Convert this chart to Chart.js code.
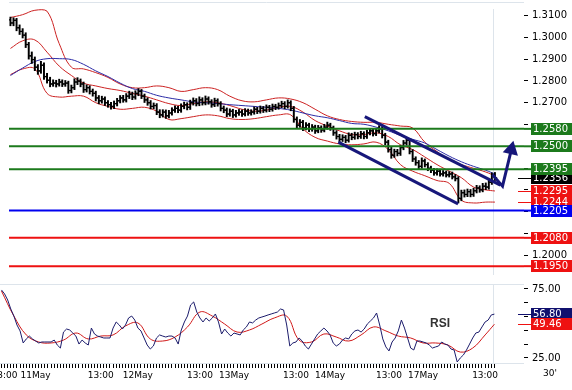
<!DOCTYPE html>
<html>
<head>
<meta charset="utf-8">
<script src="https://cdn.jsdelivr.net/npm/chart.js@4.4.1/dist/chart.umd.min.js"></script>
<style>
  html, body { margin: 0; padding: 0; background: #fff; }
  canvas { display: block; }
</style>
</head>
<body>
<canvas id="price-chart" width="572" height="284"></canvas>
<canvas id="rsi-chart" width="572" height="106"></canvas>
<script>
// 30' bars, one per index
const firstOpen = 1.3080;
const closes = [
  1.3066, 1.3078, 1.3044, 1.3027, 1.3010, 1.2967, 1.2915, 1.2898, 1.2863, 1.2846,
  1.2872, 1.2820, 1.2803, 1.2786, 1.2790, 1.2786, 1.2795, 1.2786, 1.2790, 1.2756,
  1.2769, 1.2795, 1.2799, 1.2786, 1.2760, 1.2769, 1.2752, 1.2743, 1.2722, 1.2709,
  1.2717, 1.2700, 1.2691, 1.2683, 1.2696, 1.2709, 1.2722, 1.2713, 1.2730, 1.2739,
  1.2726, 1.2743, 1.2752, 1.2730, 1.2713, 1.2700, 1.2683, 1.2687, 1.2657, 1.2644,
  1.2657, 1.2640, 1.2653, 1.2666, 1.2674, 1.2666, 1.2683, 1.2691, 1.2679, 1.2700,
  1.2709, 1.2696, 1.2713, 1.2700, 1.2717, 1.2704, 1.2691, 1.2709, 1.2696, 1.2674,
  1.2666, 1.2648, 1.2661, 1.2644, 1.2653, 1.2657, 1.2648, 1.2661, 1.2653, 1.2657,
  1.2670, 1.2661, 1.2674, 1.2666, 1.2679, 1.2670, 1.2683, 1.2679, 1.2687, 1.2696,
  1.2683, 1.2700, 1.2674, 1.2623, 1.2597, 1.2610, 1.2584, 1.2597, 1.2580, 1.2588,
  1.2571, 1.2584, 1.2575, 1.2588, 1.2597, 1.2584, 1.2562, 1.2545, 1.2532, 1.2541,
  1.2528, 1.2550, 1.2541, 1.2554, 1.2545, 1.2558, 1.2545, 1.2562, 1.2571, 1.2558,
  1.2571, 1.2580, 1.2550, 1.2519, 1.2485, 1.2459, 1.2476, 1.2468, 1.2494, 1.2515,
  1.2528, 1.2476, 1.2442, 1.2425, 1.2408, 1.2433, 1.2416, 1.2399, 1.2390, 1.2378,
  1.2386, 1.2373, 1.2378, 1.2369, 1.2373, 1.2360, 1.2352, 1.2261, 1.2287, 1.2279,
  1.2292, 1.2279, 1.2296, 1.2309, 1.2300, 1.2317, 1.2313, 1.2335, 1.2362, 1.2356
];
const highs = [
  1.3093, 1.3090, 1.3087, 1.3057, 1.3040, 1.3021, 1.2977, 1.2933, 1.2910, 1.2875,
  1.2890, 1.2883, 1.2835, 1.2817, 1.2805, 1.2803, 1.2808, 1.2805, 1.2802, 1.2799,
  1.2781, 1.2810, 1.2815, 1.2809, 1.2795, 1.2782, 1.2778, 1.2763, 1.2753, 1.2733,
  1.2730, 1.2727, 1.2710, 1.2702, 1.2708, 1.2720, 1.2733, 1.2734, 1.2742, 1.2753,
  1.2749, 1.2755, 1.2765, 1.2761, 1.2740, 1.2723, 1.2710, 1.2699, 1.2696, 1.2668,
  1.2668, 1.2667, 1.2665, 1.2677, 1.2686, 1.2684, 1.2695, 1.2703, 1.2700, 1.2712,
  1.2722, 1.2719, 1.2727, 1.2723, 1.2731, 1.2727, 1.2714, 1.2721, 1.2718, 1.2705,
  1.2685, 1.2676, 1.2672, 1.2670, 1.2665, 1.2669, 1.2667, 1.2673, 1.2671, 1.2668,
  1.2681, 1.2679, 1.2685, 1.2683, 1.2690, 1.2688, 1.2694, 1.2693, 1.2699, 1.2707,
  1.2705, 1.2713, 1.2709, 1.2683, 1.2635, 1.2623, 1.2619, 1.2609, 1.2606, 1.2600,
  1.2597, 1.2596, 1.2594, 1.2601, 1.2611, 1.2606, 1.2593, 1.2572, 1.2555, 1.2553,
  1.2550, 1.2562, 1.2560, 1.2565, 1.2563, 1.2569, 1.2567, 1.2574, 1.2583, 1.2580,
  1.2582, 1.2595, 1.2590, 1.2560, 1.2528, 1.2495, 1.2487, 1.2486, 1.2505, 1.2527,
  1.2541, 1.2536, 1.2485, 1.2452, 1.2435, 1.2447, 1.2442, 1.2425, 1.2409, 1.2399,
  1.2397, 1.2395, 1.2389, 1.2387, 1.2384, 1.2382, 1.2371, 1.2361, 1.2299, 1.2300,
  1.2304, 1.2302, 1.2308, 1.2321, 1.2319, 1.2330, 1.2332, 1.2347, 1.2378, 1.2380
];
const lows = [
  1.3053, 1.3053, 1.3030, 1.3013, 1.2997, 1.2953, 1.2900, 1.2880, 1.2847, 1.2830,
  1.2835, 1.2807, 1.2790, 1.2773, 1.2775, 1.2772, 1.2776, 1.2774, 1.2775, 1.2743,
  1.2745, 1.2760, 1.2783, 1.2773, 1.2747, 1.2749, 1.2740, 1.2730, 1.2708, 1.2695,
  1.2698, 1.2687, 1.2679, 1.2670, 1.2673, 1.2685, 1.2699, 1.2702, 1.2703, 1.2719,
  1.2714, 1.2716, 1.2732, 1.2719, 1.2701, 1.2688, 1.2671, 1.2672, 1.2645, 1.2631,
  1.2634, 1.2628, 1.2630, 1.2643, 1.2655, 1.2654, 1.2656, 1.2672, 1.2667, 1.2669,
  1.2689, 1.2685, 1.2686, 1.2689, 1.2690, 1.2693, 1.2679, 1.2682, 1.2684, 1.2662,
  1.2654, 1.2636, 1.2638, 1.2632, 1.2634, 1.2642, 1.2637, 1.2639, 1.2642, 1.2643,
  1.2647, 1.2650, 1.2652, 1.2655, 1.2657, 1.2659, 1.2661, 1.2668, 1.2670, 1.2677,
  1.2672, 1.2675, 1.2663, 1.2610, 1.2585, 1.2587, 1.2572, 1.2575, 1.2567, 1.2569,
  1.2559, 1.2562, 1.2564, 1.2566, 1.2578, 1.2573, 1.2550, 1.2533, 1.2520, 1.2522,
  1.2516, 1.2519, 1.2530, 1.2532, 1.2534, 1.2536, 1.2534, 1.2536, 1.2552, 1.2547,
  1.2549, 1.2561, 1.2538, 1.2507, 1.2473, 1.2445, 1.2449, 1.2456, 1.2458, 1.2484,
  1.2505, 1.2465, 1.2430, 1.2413, 1.2396, 1.2399, 1.2405, 1.2388, 1.2379, 1.2367,
  1.2368, 1.2363, 1.2363, 1.2359, 1.2359, 1.2350, 1.2341, 1.2240, 1.2250, 1.2267,
  1.2269, 1.2268, 1.2270, 1.2286, 1.2289, 1.2291, 1.2301, 1.2303, 1.2325, 1.2343
];

// bollinger bands and moving average, read every 4 bars
const bandIdx = [0, 4, 8, 12, 16, 20, 24, 28, 32, 36, 40, 44, 48, 52, 56, 60, 64, 68, 72, 76,
  80, 84, 88, 92, 96, 100, 104, 108, 112, 116, 120, 124, 128, 132, 136, 140, 144, 148, 152, 156, 159];
const bbUpper = [1.3091, 1.3104, 1.3124, 1.3120, 1.2971, 1.2863, 1.2855, 1.2838, 1.2816, 1.2786,
  1.2769, 1.2769, 1.2777, 1.2769, 1.2752, 1.2760, 1.2769, 1.2760, 1.2730, 1.2709,
  1.2704, 1.2713, 1.2722, 1.2717, 1.2700, 1.2670, 1.2640, 1.2623, 1.2614, 1.2610,
  1.2610, 1.2601, 1.2593, 1.2584, 1.2519, 1.2476, 1.2438, 1.2416, 1.2399, 1.2382, 1.2365];
const bbMiddle = [1.2949, 1.2984, 1.2988, 1.2932, 1.2868, 1.2825, 1.2790, 1.2777, 1.2765, 1.2756,
  1.2743, 1.2730, 1.2713, 1.2696, 1.2687, 1.2696, 1.2704, 1.2700, 1.2687, 1.2670,
  1.2661, 1.2666, 1.2679, 1.2683, 1.2657, 1.2618, 1.2593, 1.2571, 1.2554, 1.2554,
  1.2562, 1.2545, 1.2507, 1.2485, 1.2451, 1.2416, 1.2386, 1.2356, 1.2313, 1.2300, 1.2295];
const bbLower = [1.2829, 1.2855, 1.2855, 1.2743, 1.2726, 1.2730, 1.2730, 1.2700, 1.2683, 1.2670,
  1.2674, 1.2679, 1.2661, 1.2623, 1.2627, 1.2636, 1.2644, 1.2640, 1.2627, 1.2623,
  1.2627, 1.2636, 1.2644, 1.2644, 1.2580, 1.2541, 1.2524, 1.2511, 1.2507, 1.2511,
  1.2519, 1.2485, 1.2416, 1.2386, 1.2365, 1.2343, 1.2330, 1.2253, 1.2240, 1.2244, 1.2244];
const movAvg = [1.2825, 1.2859, 1.2889, 1.2902, 1.2902, 1.2898, 1.2876, 1.2846, 1.2820, 1.2790,
  1.2765, 1.2752, 1.2734, 1.2722, 1.2713, 1.2704, 1.2700, 1.2696, 1.2691, 1.2687,
  1.2683, 1.2679, 1.2674, 1.2666, 1.2653, 1.2640, 1.2631, 1.2618, 1.2605, 1.2601,
  1.2588, 1.2571, 1.2550, 1.2532, 1.2515, 1.2485, 1.2455, 1.2429, 1.2408, 1.2390, 1.2373];

// support / resistance levels
const levels = [1.2580, 1.2500, 1.2395, 1.2205, 1.2080, 1.1950];
const levelColors = ['#1c7a1c', '#1c7a1c', '#1c7a1c', '#0000f0', '#ee1111', '#ee1111'];

// trend channel and arrow (bar index, price)
const chanUpX = [116.3, 160.8], chanUpY = [1.2636, 1.2322];
const chanLoX = [107.6, 146.9], chanLoY = [1.2519, 1.2236];
const arrowX = [158.2, 161.5, 164.4], arrowY = [1.2369, 1.2317, 1.2485];

// RSI per bar and its signal line every 4 bars
const rsi = [
  74.3, 71.4, 67.0, 60.5, 55.4, 48.9, 44.6, 35.9, 38.8, 40.9,
  38.8, 37.3, 35.9, 36.6, 36.6, 36.6, 36.6, 38.0, 34.4, 32.2,
  43.8, 46.0, 45.3, 43.1, 40.9, 35.1, 38.0, 35.9, 34.4, 46.7,
  42.4, 40.9, 40.2, 39.5, 39.5, 39.5, 46.7, 51.1, 48.9, 46.0,
  48.9, 54.0, 55.4, 52.5, 46.7, 44.6, 39.5, 34.4, 31.5, 33.7,
  39.5, 41.7, 40.9, 40.2, 40.9, 40.9, 39.5, 35.1, 45.3, 51.1,
  55.4, 63.4, 65.6, 58.3, 54.0, 51.1, 54.0, 51.8, 54.0, 56.9,
  51.1, 42.4, 46.0, 43.1, 40.9, 43.1, 42.4, 41.7, 45.3, 47.5,
  51.1, 50.4, 52.5, 54.0, 54.7, 55.4, 56.2, 56.9, 57.6, 58.3,
  60.5, 59.8, 48.9, 33.7, 35.9, 36.6, 39.5, 37.3, 33.7, 31.5,
  35.1, 38.8, 42.4, 44.6, 46.7, 44.6, 41.7, 35.9, 33.7, 35.1,
  38.0, 39.5, 38.8, 42.4, 44.6, 45.3, 43.8, 46.0, 49.6, 51.8,
  54.0, 57.6, 48.9, 38.8, 33.0, 30.1, 36.6, 39.5, 44.6, 52.5,
  46.7, 39.5, 32.2, 30.8, 37.3, 37.3, 36.6, 35.9, 34.4, 32.2,
  33.0, 33.7, 36.6, 35.1, 34.4, 31.5, 30.8, 22.1, 25.0, 27.2,
  30.8, 35.1, 39.5, 43.1, 43.8, 47.5, 51.1, 52.5, 56.2, 56.80
];
const rsiSignal = [73.5, 55.4, 41.7, 36.6, 35.9, 38.0, 43.1, 38.8, 40.9, 41.7,
  48.2, 50.4, 38.8, 37.3, 40.2, 47.5, 58.3, 55.4, 49.6, 43.8,
  45.3, 49.6, 54.0, 55.4, 38.0, 36.6, 42.4, 40.2, 37.3, 41.7,
  47.5, 44.6, 40.9, 39.5, 35.9, 35.9, 34.4, 29.3, 32.2, 41.7, 49.46];

// axis ticks
const priceTicks = [1.310, 1.305, 1.300, 1.295, 1.290, 1.285, 1.280, 1.275, 1.270, 1.265, 1.260,
  1.255, 1.250, 1.245, 1.240, 1.235, 1.230, 1.225, 1.220, 1.215, 1.210, 1.205, 1.200, 1.195];
const priceLabels = ['1.3100', '1.3000', '1.2900', '1.2800', '1.2700', '1.2000'];
const rsiTicks = [75, 70, 65, 60, 55, 50, 45, 40, 35, 30, 25];
const rsiLabels = ['75.00', '25.00'];
const timeIdx = [1, 11, 32, 44, 64, 75, 95, 106, 125, 136, 156];
const timeText = ['13:00', '11May', '13:00', '12May', '13:00', '13May', '13:00', '14May', '13:00', '17May', '13:00'];

const X_MIN = -0.48, X_MAX = 168.55;
const NOW_X = 158.5;
const FONT = 'DejaVu Sans';
const NAVY = '#17177a';
const BB_RED = '#cc2222';
const FRAME = '#dde4eb';

function pts(xs, ys) { return ys.map((v, k) => ({ x: xs[k], y: v })); }
function fixY(scale) { scale.width = 48; scale.paddingTop = 0; scale.paddingBottom = 0; }

function box(ctx, y, color, text, marker) {
  if (marker) {
    ctx.strokeStyle = color; ctx.lineWidth = 1;
    ctx.beginPath(); ctx.moveTo(518, Math.round(y) + 0.5); ctx.lineTo(531, Math.round(y) + 0.5); ctx.stroke();
  }
  ctx.fillStyle = color;
  ctx.fillRect(531, Math.round(y) - 6, 41, 12);
  ctx.fillStyle = '#fff';
  ctx.font = '10px ' + FONT;
  ctx.textAlign = 'left';
  ctx.textBaseline = 'middle';
  ctx.fillText(text, 533, Math.round(y) + 0.5);
}

const priceOverlay = {
  id: 'priceOverlay',
  beforeDatasetsDraw(chart) {
    const { ctx, chartArea: a, scales } = chart;
    const nx = Math.round(scales.x.getPixelForValue(NOW_X)) + 0.5;
    ctx.save();
    ctx.strokeStyle = FRAME; ctx.lineWidth = 1;
    ctx.beginPath();
    ctx.moveTo(a.left, 2.5); ctx.lineTo(a.right, 2.5);
    ctx.moveTo(nx, a.top); ctx.lineTo(nx, a.bottom);
    ctx.stroke();
    ctx.restore();
  },
  afterDraw(chart) {
    const { ctx, chartArea: a, scales } = chart;
    const y = scales.y;
    ctx.save();
    const last = closes.length - 1;
    box(ctx, y.getPixelForValue(bbLower[bbLower.length - 1]), '#ee1111', bbLower[bbLower.length - 1].toFixed(4), true);
    box(ctx, y.getPixelForValue(bbMiddle[bbMiddle.length - 1]), '#ee1111', bbMiddle[bbMiddle.length - 1].toFixed(4), true);
    box(ctx, y.getPixelForValue(closes[last]), '#000', closes[last].toFixed(4), true);
    levels.forEach((lv, k) => {
      const py = y.getPixelForValue(lv);
      ctx.strokeStyle = levelColors[k]; ctx.lineWidth = 2;
      ctx.beginPath(); ctx.moveTo(a.right, py); ctx.lineTo(531, py); ctx.stroke();
      box(ctx, py, levelColors[k], lv.toFixed(4), false);
    });
    ctx.restore();
  }
};

const priceDatasets = [
  { type: 'line', data: pts(arrowX, arrowY), borderColor: NAVY, backgroundColor: NAVY, borderWidth: 3,
    pointRadius: [0, 0, 6], pointStyle: 'triangle', pointRotation: 13, order: 0 },
  { type: 'line', data: pts(chanUpX, chanUpY), borderColor: NAVY, borderWidth: 3, pointRadius: 0, order: 0 },
  { type: 'line', data: pts(chanLoX, chanLoY), borderColor: NAVY, borderWidth: 3, pointRadius: 0, order: 0 }
];
levels.forEach((lv, k) => {
  priceDatasets.push({ type: 'line', data: [{ x: X_MIN, y: lv }, { x: X_MAX, y: lv }],
    borderColor: levelColors[k], borderWidth: 2, pointRadius: 0, order: 1 });
});
priceDatasets.push(
  { type: 'line', data: closes.map((c, i) => ({ x: i - 0.35, y: i === 0 ? firstOpen : closes[i - 1] })),
    showLine: false, pointStyle: 'line', pointRadius: 1.2, pointBorderWidth: 1.2, pointBorderColor: '#000', order: 2 },
  { type: 'line', data: closes.map((c, i) => ({ x: i + 0.35, y: c })),
    showLine: false, pointStyle: 'line', pointRadius: 1.2, pointBorderWidth: 1.2, pointBorderColor: '#000', order: 2 },
  { type: 'bar', data: closes.map((c, i) => ({ x: i, y: [lows[i], highs[i]] })),
    backgroundColor: '#000', barThickness: 1.3, borderWidth: 0, grouped: false, order: 2 },
  { type: 'line', data: pts(bandIdx, movAvg), borderColor: '#2b2ba6', borderWidth: 1, pointRadius: 0, tension: 0.4, order: 3 },
  { type: 'line', data: pts(bandIdx, bbUpper), borderColor: BB_RED, borderWidth: 1, pointRadius: 0, tension: 0.4, order: 3 },
  { type: 'line', data: pts(bandIdx, bbMiddle), borderColor: BB_RED, borderWidth: 1, pointRadius: 0, tension: 0.4, order: 3 },
  { type: 'line', data: pts(bandIdx, bbLower), borderColor: BB_RED, borderWidth: 1, pointRadius: 0, tension: 0.4, order: 3 }
);

new Chart(document.getElementById('price-chart'), {
  type: 'bar',
  data: { datasets: priceDatasets },
  options: {
    responsive: false,
    animation: false,
    layout: { padding: 0 },
    plugins: { legend: { display: false }, tooltip: { enabled: false } },
    scales: {
      x: { type: 'linear', min: X_MIN, max: X_MAX, display: false, offset: false },
      y: {
        position: 'right', min: 1.19095, max: 1.3130,
        afterBuildTicks: s => { s.ticks = priceTicks.map(v => ({ value: v })); },
        afterFit: fixY,
        border: { display: false },
        grid: { drawOnChartArea: false, tickLength: 4, color: '#000' },
        ticks: {
          padding: 4, color: '#000', font: { family: FONT, size: 10 },
          callback: v => priceLabels.includes(v.toFixed(4)) ? v.toFixed(4) : ''
        }
      }
    }
  },
  plugins: [priceOverlay]
});

const rsiOverlay = {
  id: 'rsiOverlay',
  beforeDatasetsDraw(chart) {
    const { ctx, chartArea: a, scales } = chart;
    const nx = Math.round(scales.x.getPixelForValue(NOW_X)) + 0.5;
    ctx.save();
    ctx.strokeStyle = FRAME; ctx.lineWidth = 1;
    ctx.beginPath();
    ctx.moveTo(0, 0.5); ctx.lineTo(a.right, 0.5);
    ctx.moveTo(0, a.bottom - 0.5); ctx.lineTo(a.right, a.bottom - 0.5);
    ctx.moveTo(nx, a.top); ctx.lineTo(nx, a.bottom);
    ctx.stroke();
    ctx.restore();
  },
  afterDraw(chart) {
    const { ctx, scales } = chart;
    ctx.save();
    const r = rsi[rsi.length - 1], s = rsiSignal[rsiSignal.length - 1];
    box(ctx, scales.y.getPixelForValue(r), '#10106e', r.toFixed(2), true);
    box(ctx, scales.y.getPixelForValue(s), '#ee1111', s.toFixed(2), true);
    ctx.fillStyle = '#333';
    ctx.font = 'bold 12px "Liberation Sans"';
    ctx.textAlign = 'left';
    ctx.textBaseline = 'middle';
    ctx.fillText('RSI', 430, 40);
    ctx.fillStyle = '#000';
    ctx.font = '9px ' + FONT;
    ctx.fillText("30'", 543, 90);
    ctx.restore();
  }
};

new Chart(document.getElementById('rsi-chart'), {
  type: 'line',
  data: {
    datasets: [
      { data: rsi.map((v, i) => ({ x: i, y: v })), borderColor: '#1b1b6b', borderWidth: 1, pointRadius: 0 },
      { data: pts(bandIdx, rsiSignal), borderColor: '#d01818', borderWidth: 1, pointRadius: 0, tension: 0.4 }
    ]
  },
  options: {
    responsive: false,
    animation: false,
    layout: { padding: 0 },
    plugins: { legend: { display: false }, tooltip: { enabled: false } },
    scales: {
      x: {
        type: 'linear', min: X_MIN, max: X_MAX, offset: false,
        afterBuildTicks: s => { s.ticks = closes.map((c, i) => ({ value: i })); },
        afterFit: s => { s.height = 26; s.paddingLeft = 0; s.paddingRight = 0; },
        border: { display: false },
        grid: { drawOnChartArea: false, tickLength: 4, color: '#000' },
        ticks: {
          autoSkip: false, maxRotation: 0, padding: 2, color: '#000',
          font: { family: FONT, size: 9 },
          callback: v => { const k = timeIdx.indexOf(v); return k >= 0 ? timeText[k] : ''; }
        }
      },
      y: {
        position: 'right', min: 20.65, max: 78.62,
        afterBuildTicks: s => { s.ticks = rsiTicks.map(v => ({ value: v })); },
        afterFit: fixY,
        border: { display: false },
        grid: { drawOnChartArea: false, tickLength: 4, color: '#000' },
        ticks: {
          padding: 4, color: '#000', font: { family: FONT, size: 10 },
          callback: v => rsiLabels.includes(v.toFixed(2)) ? v.toFixed(2) : ''
        }
      }
    }
  },
  plugins: [rsiOverlay]
});
</script>
</body>
</html>
